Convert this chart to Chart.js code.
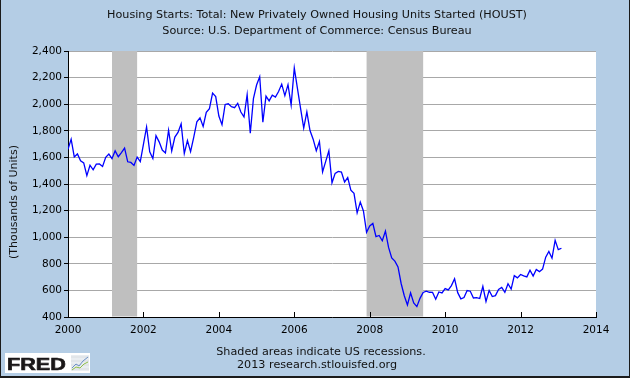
<!DOCTYPE html>
<html><head><meta charset="utf-8">
<script src="https://cdn.jsdelivr.net/npm/chart.js@4"></script>
<style>html,body{margin:0;padding:0;background:#b4cde5}#wrap{position:relative;width:630px;height:378px}</style>
</head><body><div id="wrap"><canvas id="c" width="630" height="378"></canvas></div>
<script>
// Housing starts, thousands of units (SAAR), monthly
const houst2000 = [1660, 1737, 1604, 1626, 1575, 1559, 1463, 1541, 1507, 1549, 1551, 1532];
const houst2001 = [1600, 1625, 1590, 1649, 1605, 1636, 1670, 1567, 1562, 1540, 1602, 1568];
const houst2002 = [1698, 1829, 1642, 1592, 1764, 1717, 1655, 1633, 1804, 1648, 1753, 1788];
const houst2003 = [1853, 1629, 1726, 1643, 1751, 1867, 1897, 1833, 1939, 1967, 2083, 2057];
const houst2004 = [1911, 1846, 1998, 2003, 1981, 1974, 2007, 1941, 1904, 2072, 1782, 2042];
const houst2005 = [2144, 2207, 1864, 2061, 2025, 2068, 2054, 2095, 2151, 2065, 2147, 1994];
const houst2006 = [2273, 2119, 1969, 1821, 1942, 1802, 1737, 1650, 1720, 1491, 1570, 1649];
const houst2007 = [1409, 1480, 1495, 1490, 1415, 1448, 1354, 1330, 1183, 1264, 1197, 1037];
const houst2008 = [1084, 1103, 1005, 1013, 973, 1046, 923, 844, 820, 777, 652, 560];
const houst2009 = [490, 582, 505, 478, 540, 585, 594, 586, 585, 534, 588, 581];
const houst2010 = [614, 604, 636, 687, 583, 536, 546, 599, 594, 543, 545, 539];
const houst2011 = [630, 517, 600, 554, 561, 608, 623, 585, 650, 610, 711, 694];
const houst2012 = [720, 710, 702, 752, 708, 757, 741, 760, 850, 893, 842, 976];
const houst2013 = [906, 917];
const seriesYears = [2000, 2001, 2002, 2003, 2004, 2005, 2006, 2007, 2008, 2009, 2010, 2011, 2012, 2013];
const seriesByYear = [houst2000, houst2001, houst2002, houst2003, houst2004, houst2005, houst2006,
  houst2007, houst2008, houst2009, houst2010, houst2011, houst2012, houst2013];

// Recessions (fractional years)
const recessionStarts = [2001.167, 2007.917];
const recessionEnds = [2001.833, 2009.417];

const xTickYears = [2000, 2002, 2004, 2006, 2008, 2010, 2012, 2014];
const yTickValues = [400, 600, 800, 1000, 1200, 1400, 1600, 1800, 2000, 2200, 2400];
const titleLines = ['Housing Starts: Total: New Privately Owned Housing Units Started (HOUST)',
  'Source: U.S. Department of Commerce: Census Bureau'];
const footerLines = ['Shaded areas indicate US recessions.', '2013 research.stlouisfed.org'];
const yAxisTitle = '(Thousands of Units)';
const logoText = 'FRED';

const points = [];
seriesByYear.forEach((vals, yi) => {
  vals.forEach((v, m) => points.push({x: seriesYears[yi] + m / 12, y: v}));
});

const FONT = '"DejaVu Sans", sans-serif';

const decor = {
  id: 'decor',
  beforeDraw(chart) {
    const {ctx, chartArea: a} = chart;
    ctx.save();
    ctx.fillStyle = '#b4cde5';
    ctx.fillRect(0, 0, chart.width, chart.height);
    ctx.fillStyle = '#ffffff';
    ctx.fillRect(a.left, a.top, a.right - a.left, a.bottom - a.top);
    ctx.restore();
  },
  beforeDatasetsDraw(chart) {
    const {ctx, chartArea: a, scales: {x}} = chart;
    ctx.save();
    ctx.fillStyle = '#bfbfbf';
    recessionStarts.forEach((s, i) => {
      const x0 = x.getPixelForValue(s), x1 = x.getPixelForValue(recessionEnds[i]);
      ctx.fillRect(x0, a.top, x1 - x0, a.bottom - a.top - 0.5);
    });
    ctx.restore();
  },
  afterDraw(chart) {
    const {ctx, chartArea: a, scales: {x}} = chart;
    ctx.save();
    // inward x ticks
    ctx.strokeStyle = '#000';
    ctx.lineWidth = 1;
    xTickYears.forEach(t => {
      const px = Math.round(x.getPixelForValue(t)) + 0.5;
      ctx.beginPath(); ctx.moveTo(px, a.bottom - 5); ctx.lineTo(px, a.bottom); ctx.stroke();
    });
    // titles
    ctx.fillStyle = '#111';
    ctx.font = '11.2px ' + FONT;
    ctx.textAlign = 'center';
    ctx.textBaseline = 'alphabetic';
    ctx.fillText(titleLines[0], 317, 18);
    ctx.fillText(titleLines[1], 317, 34);
    ctx.fillText(footerLines[0], 321, 355);
    ctx.fillText(footerLines[1], 317, 368);
    // y title
    ctx.save();
    ctx.translate(14, 202);
    ctx.rotate(-Math.PI / 2);
    ctx.textBaseline = 'middle';
    ctx.font = '11px ' + FONT;
    ctx.fillText(yAxisTitle, 0, 0);
    ctx.restore();
    // FRED logo
    ctx.fillStyle = '#ffffff';
    ctx.fillRect(5, 353, 85, 20);
    ctx.save();
    ctx.translate(7, 369.5);
    ctx.scale(1.35, 1);
    ctx.fillStyle = '#1a1718';
    ctx.font = '900 16px "Liberation Sans", sans-serif';
    ctx.textAlign = 'left';
    ctx.fillText(logoText, 0, 0);
    ctx.strokeStyle = '#1a1718';
    ctx.lineWidth = 0.6;
    ctx.strokeText(logoText, 0, 0);
    ctx.restore();
    ctx.fillStyle = '#e9edf1';
    ctx.fillRect(71, 355, 18, 16);
    ctx.strokeStyle = '#c8ccd0';
    ctx.lineWidth = 0.5;
    for (let i = 0; i < 4; i++) { ctx.beginPath(); ctx.moveTo(71, 357 + i * 4); ctx.lineTo(89, 357 + i * 4); ctx.stroke(); }
    ctx.lineWidth = 1;
    ctx.strokeStyle = '#6a8fc4';
    ctx.beginPath(); ctx.moveTo(72, 368); ctx.lineTo(76, 364); ctx.lineTo(79, 366); ctx.lineTo(83, 361); ctx.lineTo(88, 357); ctx.stroke();
    ctx.strokeStyle = '#8fbf4a';
    ctx.beginPath(); ctx.moveTo(72, 370); ctx.lineTo(76, 367); ctx.lineTo(80, 368); ctx.lineTo(84, 364); ctx.lineTo(88, 362); ctx.stroke();
    // page border
    ctx.fillStyle = '#1b1b1b';
    ctx.fillRect(0, 0, 1, chart.height);
    ctx.fillRect(chart.width - 1, 0, 1, chart.height);
    ctx.fillRect(0, chart.height - 2, chart.width, 2);
    ctx.restore();
  }
};

new Chart(document.getElementById('c'), {
  type: 'line',
  data: {
    datasets: [{
      data: points,
      borderColor: '#0000ff',
      borderWidth: 1.3,
      pointRadius: 0,
      tension: 0,
      fill: false
    }]
  },
  options: {
    responsive: false,
    animation: false,
    devicePixelRatio: 1,
    layout: {padding: {left: 0, top: 51, right: 34, bottom: 0}},
    plugins: {legend: {display: false}, tooltip: {enabled: false}, title: {display: false}},
    scales: {
      x: {
        type: 'linear',
        min: 2000, max: 2014,
        afterBuildTicks: s => { s.ticks = xTickYears.map(v => ({value: v})); },
        afterFit: s => { s.height = 61; },
        grid: {display: false, drawTicks: false},
        border: {display: true, color: '#000', width: 1},
        ticks: {
          callback: v => String(v),
          font: {family: FONT, size: 10.5},
          color: '#000',
          padding: 7,
          maxRotation: 0,
          autoSkip: false
        }
      },
      y: {
        min: 400, max: 2400,
        afterBuildTicks: s => { s.ticks = yTickValues.map(v => ({value: v})); },
        afterFit: s => { s.width = 68; },
        grid: {color: '#a8a8a8', lineWidth: 1, tickColor: '#000', tickLength: 4, drawTicks: true},
        border: {display: true, color: '#000', width: 1},
        ticks: {
          callback: v => v.toLocaleString('en-US'),
          font: {family: FONT, size: 10.5},
          color: '#000',
          padding: 2,
          autoSkip: false
        }
      }
    }
  },
  plugins: [decor]
});
</script>
</body></html>
